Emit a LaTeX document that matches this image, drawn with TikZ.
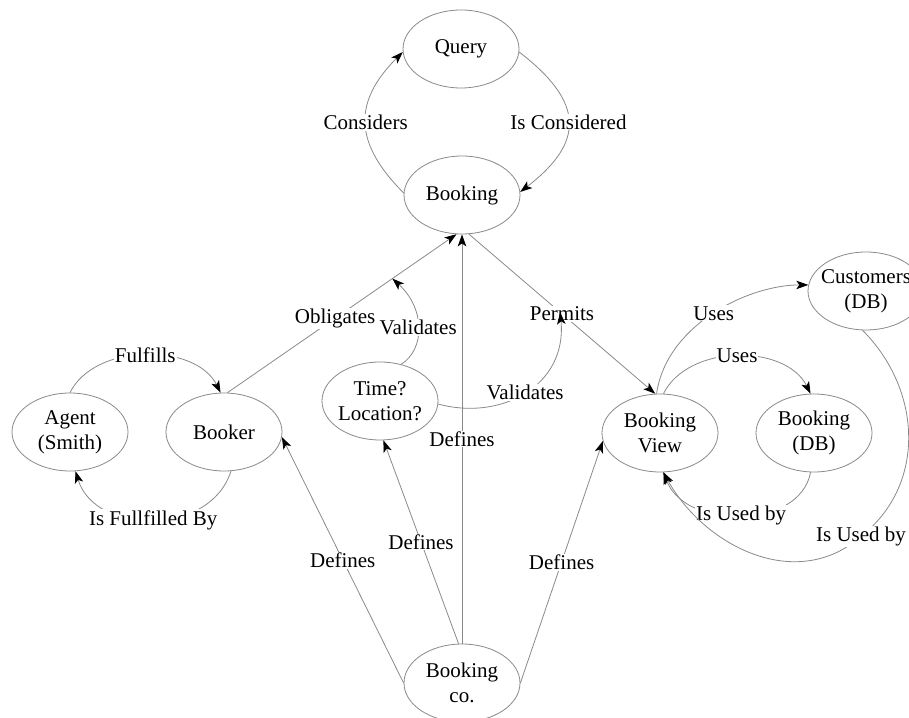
\documentclass[tikz,border=0pt]{standalone}
\usepackage{fontspec}
\setmainfont{Liberation Serif}
\usetikzlibrary{shapes.geometric,arrows.meta,calc}
\definecolor{linegray}{HTML}{8A8A8A}
\begin{document}
\begin{tikzpicture}[x=1pt,y=1pt,
  every node/.style={font=\fontsize{21}{25}\selectfont},
  entity/.style={ellipse, draw=linegray, line width=0.8pt, minimum width=116pt,
    minimum height=78pt, inner xsep=-8pt, inner ysep=0pt, align=center},
  rel/.style={draw=linegray, line width=0.8pt,
    -{Stealth[length=12pt,width=8.5pt,inset=3pt,color=black]}},
  lbl/.style={fill=white, inner sep=1pt}]
\useasboundingbox (0,0) rectangle (909,717);
\fill[white] (0,0) rectangle (909,717);
\clip (0,0) rectangle (909,717);

% entities
\node[entity] (query)   at (461,668) {Query};
\node[entity] (booking) at (462,522) {Booking};
\node[entity] (agent)   at (70,285)  {Agent\\(Smith)};
\node[entity] (booker)  at (224,285) {Booker};
\node[entity] (time)    at (380,316) {Time?\\Location?};
\node[entity] (bview)   at (660,284) {Booking\\View};
\node[entity] (bdb)     at (814,284) {Booking\\(DB)};
\node[entity] (cust)    at (866,426) {Customers\\(DB)};
\node[entity] (bco)     at (462,34)  {Booking\\co.};

% query loop
\draw[rel] (booking.178) .. controls +(-50,50) and +(-50,-50) .. node[lbl]{Considers} (query.183);
\draw[rel] (query.-3) .. controls +(65,-50) and +(65,50) .. node[lbl]{Is Considered} (booking.3);

% agent and booker
\draw[rel] (agent.90) .. controls +(25,50) and +(-25,50) .. node[lbl]{Fulfills} (booker.95);
\draw[rel] (booker.-80) .. controls +(-20,-65) and +(20,-65) .. node[lbl]{Is Fullfilled By} (agent.-82);

% relations into and out of booking
\draw[rel] (booker.85) -- node[lbl,pos=0.47]{Obligates} coordinate[pos=0.72] (obl) (booking.-98);
\draw[rel] (booking.-80) -- node[lbl]{Permits} coordinate[pos=0.49] (perm) (bview.97);

% definitions from the company
\draw[rel] (bco.north) -- node[lbl]{Defines} (booking.south);
\draw[rel] (bco.180) -- node[lbl]{Defines} (booker.-5);
\draw[rel] (bco.95) -- node[lbl]{Defines} (time.-85);
\draw[rel] (bco.0) -- node[lbl]{Defines} (bview.188);

% validation of the relations
\draw[rel] (time.60) .. controls +(24,15) and +(33,-30) .. node[lbl]{Validates} (obl);
\draw[rel] (time.-3) .. controls +(62,-17) and +(7,-74) .. node[lbl]{Validates} (perm);

% view and databases
\draw[rel] (bview.95) .. controls +(10,69) and +(-60,0) .. node[lbl]{Uses} (cust.174);
\draw[rel] (bview.85) .. controls +(25,50) and +(-25,50) .. node[lbl]{Uses} (bdb.95);
\draw[rel] (bdb.-95) .. controls +(-11,-58) and +(22,-58) .. node[lbl]{Is Used by} (bview.-85);
\coordinate (uq) at ($(cust.south)+(-5,-206)$);
\draw[rel] (cust.-95) .. controls +(59,-59) and +(66,52) .. (uq) node[lbl]{Is Used by}
  .. controls +(-65,-57) and +(40,-73) .. (bview.-85);
\end{tikzpicture}
\end{document}
